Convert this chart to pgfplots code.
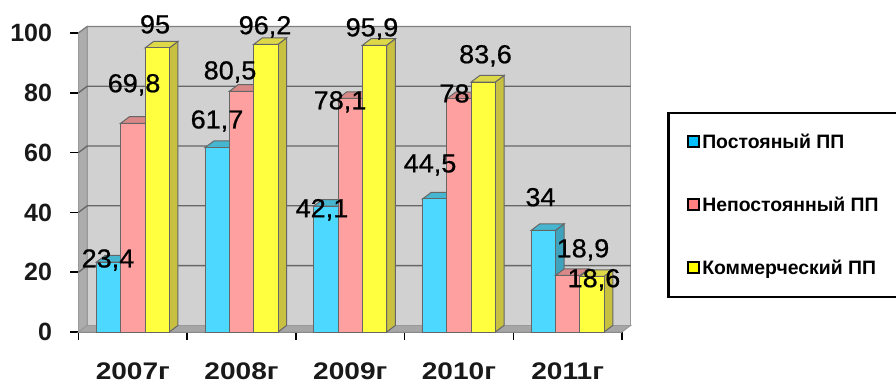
\documentclass[border=0pt]{standalone}
\usepackage{fontspec}
\setmainfont{Liberation Sans}
\newfontfamily\dlfont[FakeBold=0.7]{Liberation Sans}
\usepackage{pgfplots}
\pgfplotsset{compat=1.18}
\definecolor{cB}{HTML}{4DD9FF}
\definecolor{cBt}{HTML}{45B5D0}
\definecolor{cBs}{HTML}{3FA3BE}
\definecolor{cP}{HTML}{FFA0A0}
\definecolor{cPt}{HTML}{D98888}
\definecolor{cPs}{HTML}{C88080}
\definecolor{cY}{HTML}{FFFF40}
\definecolor{cYt}{HTML}{DCD848}
\definecolor{cYs}{HTML}{C8C040}
\definecolor{edge}{HTML}{666666}
\definecolor{lB}{HTML}{00C0FF}
\definecolor{lP}{HTML}{FF8080}
\definecolor{lY}{HTML}{FFFF00}
% side and top face of a bar: colour side, colour top, a, b, b+dx, a+dx, v, v+dy
\newcommand\faces[8]{%
  \addplot[forget plot,fill=#1,draw=edge,line width=1pt] coordinates {(#4,0)(#5,2.2)(#5,#8)(#4,#7)} --cycle;
  \addplot[forget plot,fill=#2,draw=edge,line width=1pt] coordinates {(#3,#7)(#4,#7)(#5,#8)(#6,#8)} --cycle;
}
\newcommand\dl[3]{\node[font=\dlfont\fontsize{26}{26}\selectfont,xscale=1.04,text=black,text height=18.6pt,text depth=0pt,inner sep=0pt,anchor=center] at (axis cs:#1,#2) {#3};}
\begin{document}
\begin{tikzpicture}
\path[use as bounding box] (0,0) rectangle (896pt,383pt);
\begin{axis}[
  at={(78.5pt,51pt)},anchor=south west,
  scale only axis,width=543.5pt,height=299pt,
  xmin=0,xmax=5,ymin=0,ymax=100,
  clip=false,no markers,
  axis x line*=bottom,axis y line*=left,
  axis line style={draw=edge,line width=1.5pt,-},
  xtick={0.5,1.5,2.5,3.5,4.5},
  xticklabels={2007г,2008г,2009г,2010г,2011г},
  minor xtick={0,1,2,3,4,5},
  ytick={0,20,40,60,80,100},
  tick align=outside,
  major tick length=8pt,
  minor tick length=8pt,
  xtick style={draw=none},
  minor x tick style={draw=black,line width=1.5pt},
  ytick style={draw=black,line width=1.5pt},
  /pgf/number format/assume math mode=true,
  yticklabel style={font=\bfseries\fontsize{25}{25}\selectfont,xshift=-15pt,text=black!90},
  xticklabel style={font=\bfseries\fontsize{24}{24}\selectfont,xscale=1.17,inner sep=0pt,text depth=0pt,yshift=-23pt,text=black!90},
  legend style={at={(1.0828,0.7358)},anchor=north west,draw=black,line width=2.5pt,
    font=\bfseries\fontsize{19.4}{19.4}\selectfont,
    inner xsep=19pt,inner ysep=19pt,row sep=43pt,
    /tikz/every even column/.append style={column sep=1pt}},
  legend cell align=left,
  legend image code/.code={\draw[#1,line width=2pt] (0pt,-5pt) rectangle (11pt,6pt);},
]
% walls
\addplot[forget plot,fill=black!32,draw=black!40,line width=1pt] coordinates {(0,0)(0.08,2.2)(0.08,102.2)(0,100)} --cycle;
\addplot[forget plot,fill=black!35,draw=black!40,line width=1pt] coordinates {(0,0)(5,0)(5.08,2.2)(0.08,2.2)} --cycle;
\addplot[forget plot,fill=black!18,draw=black!40,line width=1pt] coordinates {(0.08,2.2)(5.08,2.2)(5.08,102.2)(0.08,102.2)} --cycle;
% grid
\addplot[forget plot,draw=edge,line width=1.3pt] coordinates {(0,20)(0.08,22.2)(5.08,22.2)};
\addplot[forget plot,draw=edge,line width=1.3pt] coordinates {(0,40)(0.08,42.2)(5.08,42.2)};
\addplot[forget plot,draw=edge,line width=1.3pt] coordinates {(0,60)(0.08,62.2)(5.08,62.2)};
\addplot[forget plot,draw=edge,line width=1.3pt] coordinates {(0,80)(0.08,82.2)(5.08,82.2)};
\addplot[forget plot,draw=black!50,line width=1.3pt] coordinates {(0,100)(0.08,102.2)(5.08,102.2)};
% blue
\faces{cBs}{cBt}{0.165}{0.388}{0.468}{0.245}{23.4}{25.6}
\faces{cBs}{cBt}{1.165}{1.388}{1.468}{1.245}{61.7}{63.9}
\faces{cBs}{cBt}{2.165}{2.388}{2.468}{2.245}{42.1}{44.3}
\faces{cBs}{cBt}{3.165}{3.388}{3.468}{3.245}{44.5}{46.7}
\faces{cBs}{cBt}{4.165}{4.388}{4.468}{4.245}{34}{36.2}
\addplot[forget plot,ybar,bar width=24.3pt,bar shift=-24.3pt,fill=cB,draw=edge,line width=1pt]
  coordinates {(0.5,23.4)(1.5,61.7)(2.5,42.1)(3.5,44.5)(4.5,34)};
% pink
\faces{cPs}{cPt}{0.388}{0.612}{0.692}{0.468}{69.8}{72}
\faces{cPs}{cPt}{1.388}{1.612}{1.692}{1.468}{80.5}{82.7}
\faces{cPs}{cPt}{2.388}{2.612}{2.692}{2.468}{78.1}{80.3}
\faces{cPs}{cPt}{3.388}{3.612}{3.692}{3.468}{78}{80.2}
\faces{cPs}{cPt}{4.388}{4.612}{4.692}{4.468}{18.9}{21.1}
\addplot[forget plot,ybar,bar width=24.3pt,bar shift=0pt,fill=cP,draw=edge,line width=1pt]
  coordinates {(0.5,69.8)(1.5,80.5)(2.5,78.1)(3.5,78)(4.5,18.9)};
% yellow
\faces{cYs}{cYt}{0.612}{0.835}{0.915}{0.692}{95}{97.2}
\faces{cYs}{cYt}{1.612}{1.835}{1.915}{1.692}{96.2}{98.4}
\faces{cYs}{cYt}{2.612}{2.835}{2.915}{2.692}{95.9}{98.1}
\faces{cYs}{cYt}{3.612}{3.835}{3.915}{3.692}{83.6}{85.8}
\faces{cYs}{cYt}{4.612}{4.835}{4.915}{4.692}{18.6}{20.8}
\addplot[forget plot,ybar,bar width=24.3pt,bar shift=24.3pt,fill=cY,draw=edge,line width=1pt]
  coordinates {(0.5,95)(1.5,96.2)(2.5,95.9)(3.5,83.6)(4.5,18.6)};
% legend
\addlegendimage{fill=lB,draw=black}
\addlegendentry{Постояный ПП}
\addlegendimage{fill=lP,draw=black}
\addlegendentry{Непостоянный ПП}
\addlegendimage{fill=lY,draw=black}
\addlegendentry{Коммерческий ПП}
% data labels
\dl{0.704}{103}{95}
\dl{1.716}{102.7}{96,2}
\dl{0.511}{83.3}{69,8}
\dl{1.394}{87.6}{80,5}
\dl{1.274}{71.2}{61,7}
\dl{0.271}{24.7}{23,4}
\dl{2.240}{41.5}{42,1}
\dl{2.406}{77.6}{78,1}
\dl{2.700}{102}{95,9}
\dl{3.744}{93}{83,6}
\dl{3.459}{79.9}{78}
\dl{3.234}{56.5}{44,5}
\dl{4.250}{45.2}{34}
\dl{4.641}{28.1}{18,9}
\dl{4.742}{18.1}{18,6}
\end{axis}
\end{tikzpicture}
\end{document}
